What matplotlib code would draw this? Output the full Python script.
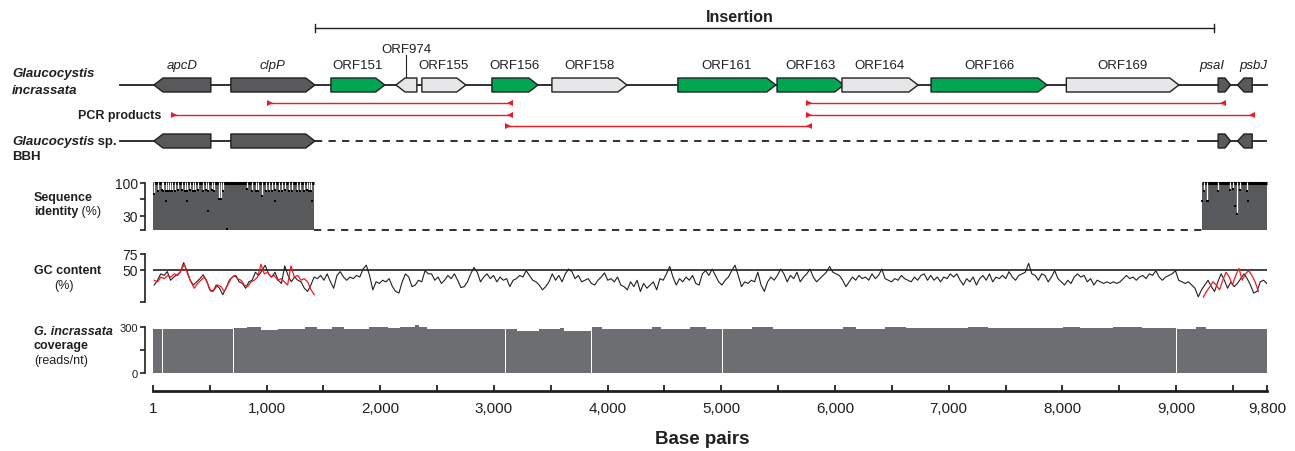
import matplotlib
matplotlib.use("Agg")
import matplotlib.pyplot as plt
import matplotlib.transforms as mtransforms
from matplotlib.patches import Polygon
import numpy as np

plt.rcParams['font.family'] = ['Liberation Sans', 'DejaVu Sans']
TXT = '#231f20'
DARK = '#58595b'
GREEN = '#00a651'
LIGHT = '#e6e7e8'
RED = '#ed1c24'
COV = '#6d6e71'

# --- genes (bp) ---
gene_names = ['apcD', 'clpP', 'ORF151', 'ORF974', 'ORF155', 'ORF156', 'ORF158', 'ORF161',
              'ORF163', 'ORF164', 'ORF166', 'ORF169', 'psaI', 'psbJ']
gene_start = [9, 686, 1566, 2138, 2366, 2982, 3510, 4618, 5490, 6061, 6845, 8035, 9370, 9540]
gene_end = [510, 1425, 2040, 2322, 2753, 3387, 4170, 5480, 6078, 6730, 7865, 9025, 9480, 9670]
gene_strand = [-1, 1, 1, -1, 1, 1, 1, 1, 1, 1, 1, 1, 1, -1]
gene_kind = ['core', 'core', 'orf_g', 'orf_l', 'orf_l', 'orf_g', 'orf_l', 'orf_g',
             'orf_g', 'orf_l', 'orf_g', 'orf_l', 'core', 'core']
bbh_genes = ['apcD', 'clpP', 'psaI', 'psbJ']
label_pos = {'psaI': 9317, 'psbJ': 9677}

insertion = (1425, 9333)

# PCR products (bp)
pcr_start = [1030, 190, 3120, 5770, 5770]
pcr_end = [3138, 3138, 5775, 9410, 9665]
pcr_row = [0, 1, 2, 0, 1]

# --- sequence identity (%) ---
aligned_blocks = [(1, 1415), (9226, 9800)]
low_bp = [10, 48, 78, 92, 113, 130, 150, 171, 195, 224, 253, 283, 297, 327, 350, 370, 400,
          443, 465, 488, 517, 538, 582, 599, 620, 825, 874, 907, 927, 957, 992, 1021, 1045,
          1074, 1109, 1138, 1162, 1197, 1221, 1265, 1294, 1329, 1353, 1373, 1391,
          9246, 9276, 9373, 9475, 9499, 9534, 9563, 9627]
low_pct = [77, 84, 86, 84, 84, 84, 84, 84, 84, 86, 86, 84, 84, 86, 84, 84, 86,
           84, 86, 84, 86, 84, 65, 65, 84, 88, 84, 84, 84, 73, 84, 84, 84,
           86, 84, 84, 86, 84, 84, 84, 84, 84, 86, 84, 84,
           84, 62, 84, 86, 88, 34, 86, 84]
dot_bp = [113, 297, 488, 649, 1074, 1400, 9226, 9285, 9519, 9636]
dot_pct = [62, 62, 41, 3, 62, 62, 62, 62, 52, 62]

# --- GC content (%) ---
gc_black = [26.5, 34, 44, 41.5, 47.5, 34, 39, 42.5, 46.5, 61.5, 49, 34, 26.5, 31.5, 36.5, 42.5,
            34, 19, 16.5, 26.5, 21.5, 11.5, 21.5, 34, 39, 41.5, 31.5, 29, 21.5, 31.5, 34, 46.5,
            41.5, 49, 57.5, 44, 39, 46.5, 34, 29, 56.5, 41.5, 31.5, 39, 34, 31.5, 21.5, 16.5,
            26.5, 39, 36.5, 41.5, 34, 44, 31.5, 21.5, 41.5, 47.5, 39, 34, 39, 36.5, 41.5, 39,
            51.5, 57.5, 41.5, 19, 31.5, 29, 34, 31.5, 36.5, 24, 16.5, 14, 31.5, 44, 39, 24,
            26.5, 34, 31.5, 49, 44,
            44, 34, 39, 29, 34, 41.5, 36.5, 44, 34, 22.5, 24, 31.5, 44, 54, 46.5, 31.5, 39, 44,
            36.5, 41.5, 31.5, 39, 34, 36.5, 24, 34, 36.5, 41.5, 39, 49, 41.5, 34, 31.5, 26.5,
            19, 24, 31.5, 44, 34, 41.5, 31.5, 44, 51.5, 47.5, 36.5, 41.5, 31.5, 34, 36.5, 29,
            26.5, 34, 39, 45.5, 34, 36.5, 31.5, 39, 26.5, 24, 19, 31.5, 24, 34, 16.5, 29, 21.5,
            26.5, 31.5, 19, 36.5, 34, 44, 55.5, 39, 26.5, 36.5, 31.5, 39, 34, 41.5, 29, 26.5,
            44, 49, 41.5, 51.5, 41.5,
            31.5, 26.5, 34, 39, 49, 57.5, 41.5, 24, 31.5, 29, 34, 31.5, 46.5, 26.5, 16.5, 31.5,
            39, 34, 41.5, 51.5, 44, 31.5, 41.5, 36.5, 46.5, 31.5, 39, 44, 51.5, 39, 31.5, 36.5,
            41.5, 46.5, 55.5, 46.5, 44, 41.5, 34, 24, 31.5, 39, 34, 41.5, 36.5, 39, 34, 44,
            36.5, 41.5, 51.5, 36.5, 34, 31.5, 36.5, 34, 41.5, 36.5, 34, 31.5, 39, 34, 41.5, 44,
            34, 41.5, 34, 39, 31.5, 39, 36.5, 44, 39, 44, 34, 26.5, 36.5, 31.5, 39, 26.5, 36.5,
            41.5, 34, 44, 31.5, 39, 36.5,
            41.5, 36.5, 47.5, 39, 34, 41.5, 44, 46.5, 60.5, 44, 41.5, 34, 44, 41.5, 31.5, 39,
            49, 36.5, 31.5, 26.5, 34, 29, 39, 44, 39, 41.5, 31.5, 36.5, 26.5, 34, 31.5, 29,
            31.5, 29, 31.5, 29, 31.5, 36.5, 41.5, 36.5, 39, 34, 39, 41.5, 36.5, 44, 41.5, 49,
            39, 34, 39, 41.5, 44, 49, 34, 31.5, 29, 31.5, 26.5, 21.5, 8, 19, 26.5, 34, 24,
            16.5, 31.5, 44, 34, 21.5, 31.5, 24, 29, 36.5, 44, 36.5, 26.5, 14, 16.5, 31.5, 34, 29]
gc_black_range = (12, 9798)
gc_red_left = [34, 31.5, 39, 36.5, 41.5, 39, 44, 41.5, 49, 59, 44, 31.5, 21.5, 29, 34, 39, 29,
               16.5, 19, 26.5, 24, 16.5, 26.5, 36.5, 41.5, 36.5, 34, 26.5, 24, 31.5, 34, 39, 59,
               44, 46.5, 39, 41.5, 34, 36.5, 31.5, 26.5, 56.5, 39, 41.5, 34, 36.5, 31.5, 19, 11.5]
gc_red_left_range = (12, 1420)
gc_red_right = [7.5, 16.5, 24, 31.5, 26.5, 19, 34, 46.5, 39, 26.5, 41.5, 52.5, 34, 44, 49,
                41.5, 31.5, 16.5]
gc_red_right_range = (9240, 9724)

# --- coverage (reads/nt) ---
cov_start = [1, 78, 88, 170, 708, 717, 827, 955, 1101, 1338, 1447, 1575, 1685, 1904, 2068,
             2177, 2306, 2341, 2415, 3100, 3110, 3200, 3400, 3583, 3619, 3852, 3862, 3948,
             4394, 4467, 4723, 4869, 5005, 5015, 5270, 5453, 6073, 6183, 6438, 6621, 7168,
             7350, 8008, 8154, 8446, 8701, 8998, 9008, 9176, 9267]
cov_val = [289, 0, 284, 289, 0, 293, 300, 278, 289, 300, 289, 300, 289, 300, 293,
           303, 312, 300, 289, 0, 284, 274, 284, 293, 274, 0, 300, 289,
           300, 284, 300, 284, 0, 284, 300, 289, 300, 289, 300, 293, 300,
           293, 300, 293, 300, 293, 0, 289, 300, 289]
cov_end = 9800

xticks = [1] + list(range(500, 9501, 500)) + [9800]
xticklabels = ['1' if t == 1 else ('9,800' if t == 9800 else (f"{t:,}" if t % 1000 == 0 else ''))
               for t in xticks]

# ------------------------------------------------------------------
W, H = 1295, 452
fig = plt.figure(figsize=(W / 100, H / 100), dpi=100)
# pixel coords (origin top-left) for free text
pix = mtransforms.Affine2D().scale(1 / W, -1 / H).translate(0, 1) + fig.transFigure
L, WD = 153 / W, 1114 / W
XLIM = (1, 9800)


def ptext(x, y, s, **kw):
    kw.setdefault('va', 'center')
    kw.setdefault('color', TXT)
    return fig.text(x, y, s, transform=pix, **kw)


def gene_poly(s, e, strand, y, h=14, head=80):
    hl = min(head, (e - s) * 0.45)
    if strand > 0:
        pts = [(s, y - h / 2), (e - hl, y - h / 2), (e, y), (e - hl, y + h / 2), (s, y + h / 2)]
    else:
        pts = [(e, y - h / 2), (s + hl, y - h / 2), (s, y), (s + hl, y + h / 2), (e, y + h / 2)]
    return pts


colors = {'core': DARK, 'orf_g': GREEN, 'orf_l': LIGHT}

# gene map axes (y in pixel rows)
axg = fig.add_axes([L, 1 - 160 / H, WD, 160 / H])
axg.set_xlim(*XLIM)
axg.set_ylim(160, 0)
axg.axis('off')

Y_GI, Y_BBH = 86, 142
axg.plot([-290, 9800], [Y_GI, Y_GI], color=TXT, lw=1.3, clip_on=False, zorder=1)
axg.plot([-290, gene_end[1]], [Y_BBH, Y_BBH], color=TXT, lw=1.3, clip_on=False, zorder=1)
axg.plot([gene_end[1], 9150], [Y_BBH, Y_BBH], color=TXT, lw=1.3, ls=(0, (4, 3.5)), zorder=1)
axg.plot([9190, 9800], [Y_BBH, Y_BBH], color=TXT, lw=1.3, zorder=1)

for n, s, e, st, k in zip(gene_names, gene_start, gene_end, gene_strand, gene_kind):
    axg.add_patch(Polygon(gene_poly(s, e, st, Y_GI), closed=True, fc=colors[k], ec=TXT,
                          lw=1.0, joinstyle='round', zorder=3))
    if n in bbh_genes:
        axg.add_patch(Polygon(gene_poly(s, e, st, Y_BBH), closed=True, fc=colors[k], ec=TXT,
                              lw=1.0, joinstyle='round', zorder=3))
    xl = label_pos.get(n, (s + e) / 2)
    style = 'italic' if k == 'core' else 'normal'
    if n == 'ORF974':
        axg.text(xl, 50, n, ha='center', va='center', fontsize=9.5, color=TXT)
        axg.plot([xl, xl], [56, Y_GI - 7], color=TXT, lw=0.8)
    else:
        axg.text(xl, 66, n, ha='center', va='center', fontsize=9.5, color=TXT, style=style)

# insertion bracket
axg.plot(insertion, [29, 29], color=TXT, lw=1.0)
for xb in insertion:
    axg.plot([xb, xb], [25, 33], color=TXT, lw=1.0)

# PCR products
rows_y = [104, 116, 127]
for s, e, r in zip(pcr_start, pcr_end, pcr_row):
    y = rows_y[r]
    axg.plot([s, e], [y, y], color=RED, lw=1.0)
    axg.plot([s], [y], marker='>', ms=5, color=RED, mew=0)
    axg.plot([e], [y], marker='<', ms=5, color=RED, mew=0)

# left labels
ptext(12, 74, 'Glaucocystis', fontsize=9.5, weight='bold', style='italic')
ptext(12, 91, 'incrassata', fontsize=9.5, weight='bold', style='italic')
ptext(161, 116, 'PCR products', fontsize=9, weight='bold', ha='right')
t1 = ptext(12, 142, 'Glaucocystis', fontsize=9.5, weight='bold', style='italic')
axg.annotate(' sp.', xy=(1, 0), xycoords=t1, va='bottom', ha='left', fontsize=9.5,
             weight='bold', color=TXT, annotation_clip=False)
ptext(12, 157, 'BBH', fontsize=9.5, weight='bold')
ptext(34, 198, 'Sequence', fontsize=9, weight='bold')
t2 = ptext(34, 212, 'identity', fontsize=9, weight='bold')
axg.annotate(' (%)', xy=(1, 0), xycoords=t2, va='bottom', ha='left', fontsize=9,
             color=TXT, annotation_clip=False)
ptext(34, 271, 'GC content', fontsize=9, weight='bold')
ptext(64, 286, '(%)', fontsize=9, ha='center')
ptext(34, 332, 'G. incrassata', fontsize=9, weight='bold', style='italic')
ptext(34, 346, 'coverage', fontsize=9, weight='bold')
ptext(34, 361, '(reads/nt)', fontsize=9)
ptext(740, 17, 'Insertion', fontsize=11.5, weight='bold', ha='center')
ptext(702, 440, 'Base pairs', fontsize=13.5, weight='bold', ha='center')


def side_axis(ax, lo, hi, ticks, labels, size):
    ax.set_xlim(*XLIM)
    for sp in ['top', 'right', 'bottom']:
        ax.spines[sp].set_visible(False)
    ax.spines['left'].set_position(('outward', 6))
    ax.spines['left'].set_bounds(lo, hi)
    ax.spines['left'].set_linewidth(1.2)
    ax.spines['left'].set_color(TXT)
    ax.set_yticks(ticks)
    ax.set_yticklabels(labels)
    ax.tick_params(axis='y', length=3.5, width=1.2, pad=1.5, labelsize=size, colors=TXT)
    ax.set_xticks([])
    ax.patch.set_visible(False)


# sequence identity
axi = fig.add_axes([L, 1 - 231 / H, WD, 47 / H])
axi.set_ylim(0, 100)
side_axis(axi, 0, 100, [0, 30, 65, 100], ['', '30', '', '100'], 10)
for s, e in aligned_blocks:
    axi.fill_between([s, e], 0, 100, color=DARK, lw=0, zorder=1)
    axi.plot([s, e], [100, 100], color='black', lw=2.2, solid_capstyle='butt',
             clip_on=False, zorder=2)
axi.vlines(low_bp, low_pct, 101.5, color='white', lw=0.9, zorder=3, clip_on=False)
axi.plot(low_bp, low_pct, 's', ms=1.6, color='black', mew=0, zorder=4)
axi.plot(dot_bp, dot_pct, 's', ms=1.6, color='black', mew=0, zorder=4)
axi.plot([aligned_blocks[0][1], aligned_blocks[1][0]], [0, 0], color=TXT, lw=1.3,
         ls=(0, (4, 3.5)), clip_on=False)

# GC content
axc = fig.add_axes([L, 1 - 303 / H, WD, 48 / H])
axc.set_ylim(0, 75)
side_axis(axc, 0, 75, [0, 50, 75], ['', '50', '75'], 10)
axc.axhline(50, color=TXT, lw=1.2, zorder=1)
axc.plot(np.linspace(*gc_black_range, len(gc_black)), gc_black, color=TXT, lw=0.8, zorder=2)
axc.plot(np.linspace(*gc_red_left_range, len(gc_red_left)), gc_red_left, color=RED, lw=0.9,
         zorder=3)
axc.plot(np.linspace(*gc_red_right_range, len(gc_red_right)), gc_red_right, color=RED, lw=0.9,
         zorder=3)

# coverage + shared x axis
axv = fig.add_axes([L, 1 - 374 / H, WD, 46 / H])
axv.set_ylim(0, 300)
side_axis(axv, 0, 300, [0, 150, 300], ['0', '', '300'], 8)
axv.stairs(cov_val, cov_start + [cov_end], baseline=0, fill=True, color=COV, clip_on=False)
axv.spines['bottom'].set_visible(True)
axv.spines['bottom'].set_position(('outward', 13))
axv.spines['bottom'].set_linewidth(2)
axv.spines['bottom'].set_color(TXT)
axv.spines['bottom'].set_bounds(1, 9800)
axv.set_xticks(xticks)
axv.set_xticklabels(xticklabels)
axv.tick_params(axis='x', direction='in', length=4, width=1.3, pad=7, labelsize=11,
                colors=TXT)

fig.savefig('out.png', dpi=100)
